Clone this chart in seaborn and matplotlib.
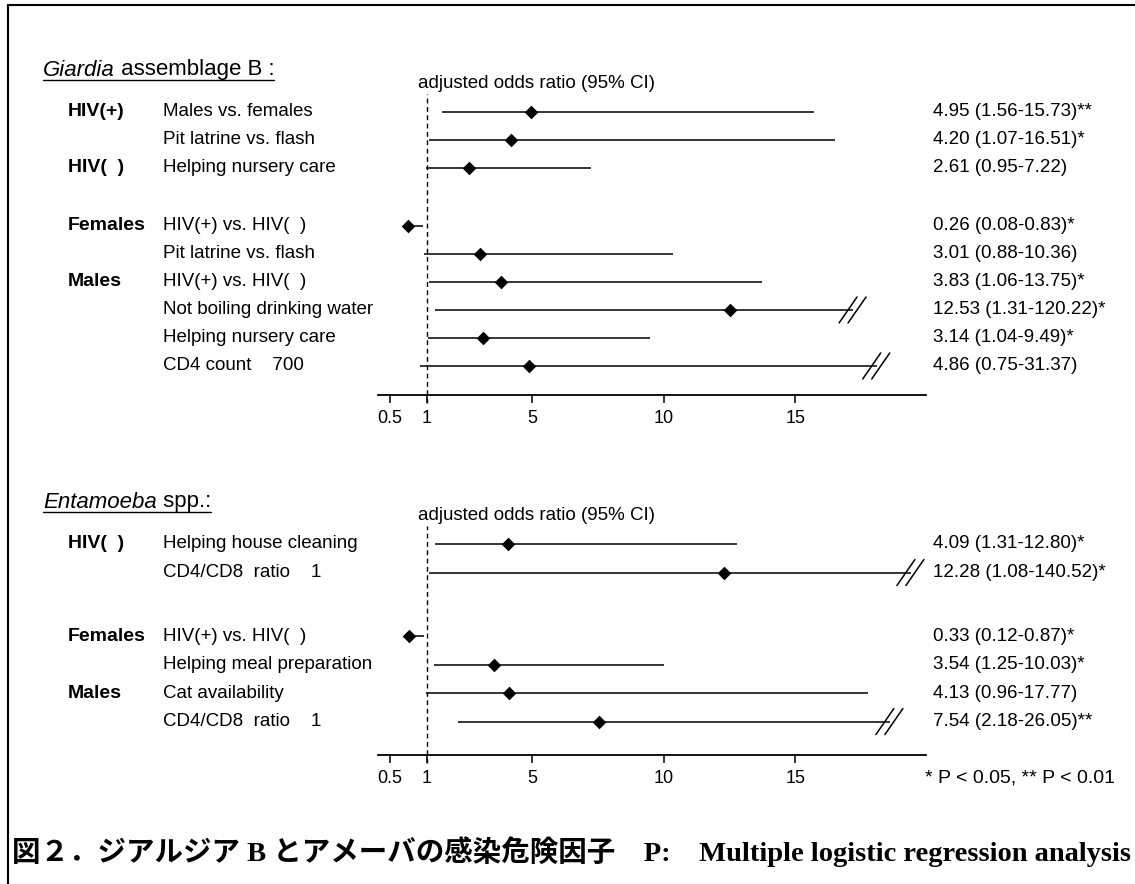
import numpy as np
import pandas as pd
import matplotlib
matplotlib.use("Agg")
import matplotlib.pyplot as plt
import seaborn as sns
from matplotlib.lines import Line2D
from matplotlib.transforms import blended_transform_factory

# Giardia assemblage B
giardia_groups = ["HIV(+)", "", "HIV(  )", "Females", "", "Males", "", "", ""]
giardia_items = ["Males vs. females", "Pit latrine vs. flash", "Helping nursery care",
                 "HIV(+) vs. HIV(  )", "Pit latrine vs. flash", "HIV(+) vs. HIV(  )",
                 "Not boiling drinking water", "Helping nursery care", "CD4 count    700"]
giardia_or = [4.95, 4.20, 2.61, 0.26, 3.01, 3.83, 12.53, 3.14, 4.86]
giardia_lo = [1.56, 1.07, 0.95, 0.08, 0.88, 1.06, 1.31, 1.04, 0.75]
giardia_hi = [15.73, 16.51, 7.22, 0.83, 10.36, 13.75, 120.22, 9.49, 31.37]
giardia_sig = ["**", "*", "", "*", "", "*", "*", "*", ""]
giardia_block = [0, 0, 0, 1, 1, 1, 1, 1, 1]

# Entamoeba spp.
ent_groups = ["HIV(  )", "", "Females", "", "Males", ""]
ent_items = ["Helping house cleaning", "CD4/CD8  ratio    1", "HIV(+) vs. HIV(  )",
             "Helping meal preparation", "Cat availability", "CD4/CD8  ratio    1"]
ent_or = [4.09, 12.28, 0.33, 3.54, 4.13, 7.54]
ent_lo = [1.31, 1.08, 0.12, 1.25, 0.96, 2.18]
ent_hi = [12.80, 140.52, 0.87, 10.03, 17.77, 26.05]
ent_sig = ["*", "*", "*", "*", "", "**"]
ent_block = [0, 0, 1, 1, 1, 1]

tick_labels = ["0.5", "1", "5", "10", "15"]
caption = "図２．ジアルジア B とアメーバの感染危険因子　P:　Multiple logistic regression analysis"
p_note = "* P < 0.05, ** P < 0.01"

# layout (pixels of the 1135x884 canvas)
W, H = 1135, 884
PX_PER_UNIT = 26.3
AX_LEFT, AX_RIGHT, ONE_PX = 378, 926, 427
tick_pos = [1 - 37.5 / PX_PER_UNIT, 1, 5, 10, 15]

sns.set_theme(style="white")
plt.rcParams["font.family"] = ["Liberation Sans", "Noto Sans CJK JP", "DejaVu Sans"]
plt.rcParams["text.color"] = "black"

fig = plt.figure(figsize=(W / 100, H / 100), dpi=100)
fig.patch.set_facecolor("white")
renderer = fig.canvas.get_renderer()


def fx(px):
    return px / W


def fy(py):
    return 1 - py / H


def section_title(italic, rest, y_px):
    t1 = fig.text(fx(43), fy(y_px), italic, style="italic", fontsize=16, va="center")
    w1 = t1.get_window_extent(renderer).width
    t2 = fig.text(fx(43 + w1), fy(y_px), rest, fontsize=16, va="center")
    w2 = t2.get_window_extent(renderer).width
    fig.add_artist(Line2D([fx(43), fx(43 + w1 + w2)], [fy(y_px + 10), fy(y_px + 10)],
                          color="black", lw=1.0, transform=fig.transFigure))


def forest(groups, items, ors, los, his, sigs, blocks, cuts, row0_px, row_h, gap, axis_px):
    df = pd.DataFrame({"group": groups, "item": items, "odds": ors, "lo": los,
                       "hi": his, "sig": sigs, "block": blocks})
    df["row"] = np.arange(len(df)) + df["block"] * gap
    df["end"] = [min(h, cuts.get(i, h)) for i, h in enumerate(df["hi"])]

    top_px = row0_px - 18
    ax = fig.add_axes([fx(AX_LEFT), fy(axis_px), (AX_RIGHT - AX_LEFT) / W,
                       (axis_px - top_px) / H])
    ax.set_facecolor("none")
    ax.set_xlim(1 - (ONE_PX - AX_LEFT) / PX_PER_UNIT, 1 + (AX_RIGHT - ONE_PX) / PX_PER_UNIT)
    ax.set_ylim((axis_px - row0_px) / row_h, (top_px - row0_px) / row_h)

    ax.hlines(df["row"], df["lo"], df["end"], color="black", lw=1.1)
    sns.scatterplot(data=df, x="odds", y="row", marker="D", s=48, color="black",
                    linewidth=0, ax=ax, zorder=3, legend=False)
    ax.axvline(1, ymin=-8 / (axis_px - top_px), ymax=1, color="black", lw=1.0,
               ls=(0, (3.5, 2.5)), clip_on=False)

    sns.despine(ax=ax, left=True)
    ax.spines["bottom"].set_color("black")
    ax.spines["bottom"].set_linewidth(1.3)
    ax.set_yticks([])
    ax.set_xticks(tick_pos)
    ax.set_xticklabels(tick_labels)
    ax.tick_params(axis="x", bottom=True, direction="out", length=6, width=1.1,
                   color="black", labelsize=13, pad=5, labelcolor="black")
    ax.set_xlabel("")
    ax.set_ylabel("")

    trans = blended_transform_factory(fig.transFigure, ax.transData)
    for _, r in df.iterrows():
        ax.text(fx(68), r["row"], r["group"], transform=trans, fontsize=14,
                fontweight="bold", va="center")
        ax.text(fx(163), r["row"], r["item"], transform=trans, fontsize=13.5, va="center")
        ax.text(fx(933), r["row"], f"{r['odds']:.2f} ({r['lo']:.2f}-{r['hi']:.2f}){r['sig']}",
                transform=trans, fontsize=13.5, va="center")
    ax.text(fx(418), -1, "adjusted odds ratio (95% CI)", transform=trans, fontsize=13.5,
            va="center")

    # break marks on truncated intervals
    for i in cuts:
        x0, y0 = ax.transData.transform((df.loc[i, "end"], df.loc[i, "row"]))
        for dx in (-5, 4):
            fig.add_artist(Line2D([fx(x0 + dx - 9), fx(x0 + dx + 9)],
                                  [(y0 - 13) / H, (y0 + 13) / H],
                                  color="black", lw=1.1, transform=fig.transFigure))
    return ax


section_title("Giardia", " assemblage B :", 70)
forest(giardia_groups, giardia_items, giardia_or, giardia_lo, giardia_hi, giardia_sig,
       giardia_block, {6: 17.2, 8: 18.1}, row0_px=112, row_h=28, gap=1.07, axis_px=395)

section_title("Entamoeba", " spp.:", 502)
forest(ent_groups, ent_items, ent_or, ent_lo, ent_hi, ent_sig,
       ent_block, {1: 19.4, 5: 18.6}, row0_px=544, row_h=28.5, gap=1.23, axis_px=755)

fig.text(fx(925), fy(778), p_note, fontsize=14, va="center")

# frame
fig.add_artist(Line2D([fx(8), fx(8)], [fy(5), 0], color="black", lw=1.5,
                      transform=fig.transFigure))
fig.add_artist(Line2D([fx(8), 1], [fy(5), fy(5)], color="black", lw=1.5,
                      transform=fig.transFigure))

# caption, scaled to the width of the frame
cap = fig.text(fx(12), fy(852), caption, fontsize=18, fontweight="bold", va="center",
               family=["Liberation Serif", "Noto Sans CJK JP"])
w = cap.get_window_extent(renderer).width
cap.set_fontsize(18 * 1118 / w)

fig.savefig("out.png", dpi=100, facecolor="white")
